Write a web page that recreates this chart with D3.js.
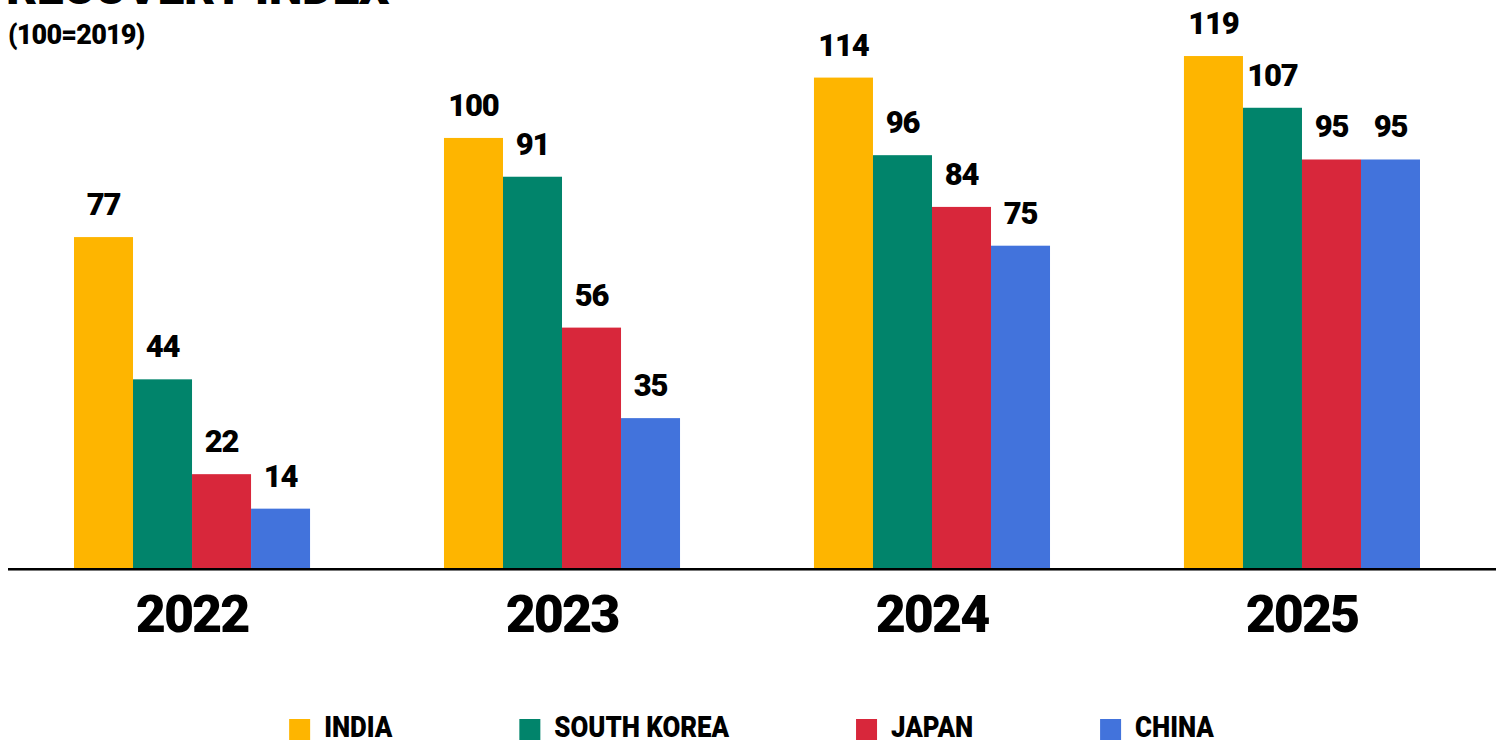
<!DOCTYPE html>
<html>
<head>
<meta charset="utf-8">
<script src="https://cdn.jsdelivr.net/npm/d3@7"></script>
<style>
  html, body { margin: 0; padding: 0; background: #fff; }
  svg { display: block; font-family: Roboto, "Noto Sans", sans-serif; }
</style>
</head>
<body>
<svg id="chart" width="1503" height="744"></svg>
<script>
// Recovery index by year (100 = 2019 level)
const years = ["2022", "2023", "2024", "2025"];
const countries = ["INDIA", "SOUTH KOREA", "JAPAN", "CHINA"];
const india = [77, 100, 114, 119];
const southKorea = [44, 91, 96, 107];
const japan = [22, 56, 84, 95];
const china = [14, 35, 75, 95];
const colors = ["#FEB500", "#01846B", "#D8273B", "#4273DC"];

const seriesValues = [india, southKorea, japan, china];
const rows = years.map((yr, i) => ({
  year: yr,
  values: countries.map((c, k) => ({ country: c, value: seriesValues[k][i] }))
}));

const svg = d3.select("#chart");
const W = 1503;

const x0 = d3.scaleBand().domain(years).range([74, 1420]).paddingInner(0.362).paddingOuter(0);
const x1 = d3.scaleBand().domain(countries).range([0, x0.bandwidth()]);
const y = d3.scaleLinear().domain([0, 132]).range([569, 0]);
const color = d3.scaleOrdinal().domain(countries).range(colors);

// Title (runs past the top edge) and subtitle
svg.append("text").attr("x", 6).attr("y", 4)
  .attr("font-size", 48).attr("font-weight", 900).attr("fill", "#000")
  .attr("letter-spacing", -0.5)
  .text("RECOVERY INDEX");
svg.append("text").attr("x", 8).attr("y", 44)
  .attr("font-size", 27).attr("font-weight", 900).attr("fill", "#000")
  .attr("letter-spacing", -0.8)
  .text("(100=2019)");

// Bars
const groups = svg.append("g").selectAll("g").data(rows).join("g")
  .attr("transform", d => `translate(${x0(d.year)},0)`);

groups.selectAll("rect").data(d => d.values).join("rect")
  .attr("x", d => x1(d.country))
  .attr("y", d => y(d.value))
  .attr("width", x1.bandwidth())
  .attr("height", d => y(0) - y(d.value))
  .attr("fill", d => color(d.country));

// Value labels above the bars
groups.selectAll("text").data(d => d.values).join("text")
  .attr("x", d => x1(d.country) + x1.bandwidth() / 2)
  .attr("y", d => y(d.value) - 22)
  .attr("text-anchor", "middle")
  .attr("font-size", 31).attr("font-weight", 900).attr("fill", "#000")
  .attr("letter-spacing", -1.2)
  .text(d => d.value);

// Baseline
svg.append("line").attr("x1", 8).attr("x2", 1496).attr("y1", y(0) + 1.5).attr("y2", y(0) + 1.5)
  .attr("stroke", "#777").attr("stroke-width", 1);
svg.append("line").attr("x1", 8).attr("x2", 1496).attr("y1", y(0)).attr("y2", y(0))
  .attr("stroke", "#000").attr("stroke-width", 2);

// Year labels
const xAxis = d3.axisBottom(x0).tickSize(0).tickPadding(0);
const axisG = svg.append("g").attr("transform", `translate(0,${y(0)})`).call(xAxis);
axisG.select(".domain").remove();
axisG.selectAll("text")
  .attr("dy", null).attr("y", 63)
  .attr("font-family", "Roboto, sans-serif")
  .attr("font-size", 52).attr("font-weight", 900).attr("fill", "#000")
  .attr("letter-spacing", -2);

// Legend, centred under the chart
const legend = svg.append("g");
const sq = 21, gapText = 14, gapItem = 127, condense = 0.89;
const items = legend.selectAll("g").data(countries).join("g");
items.append("rect").attr("width", sq).attr("height", sq).attr("y", 719)
  .attr("fill", d => color(d));
items.append("text")
  .attr("font-size", 29).attr("font-weight", 900).attr("fill", "#000")
  .attr("transform", `translate(${sq + gapText},737) scale(${condense},1)`)
  .text(d => d);
const widths = [];
items.each(function () { widths.push(d3.select(this).select("text").node().getComputedTextLength() * condense); });
const total = d3.sum(widths) + countries.length * (sq + gapText) + (countries.length - 1) * gapItem;
let cx = (W - total) / 2;
items.attr("transform", (d, i) => {
  const t = `translate(${cx},0)`;
  cx += sq + gapText + widths[i] + gapItem;
  return t;
});
</script>
</body>
</html>
